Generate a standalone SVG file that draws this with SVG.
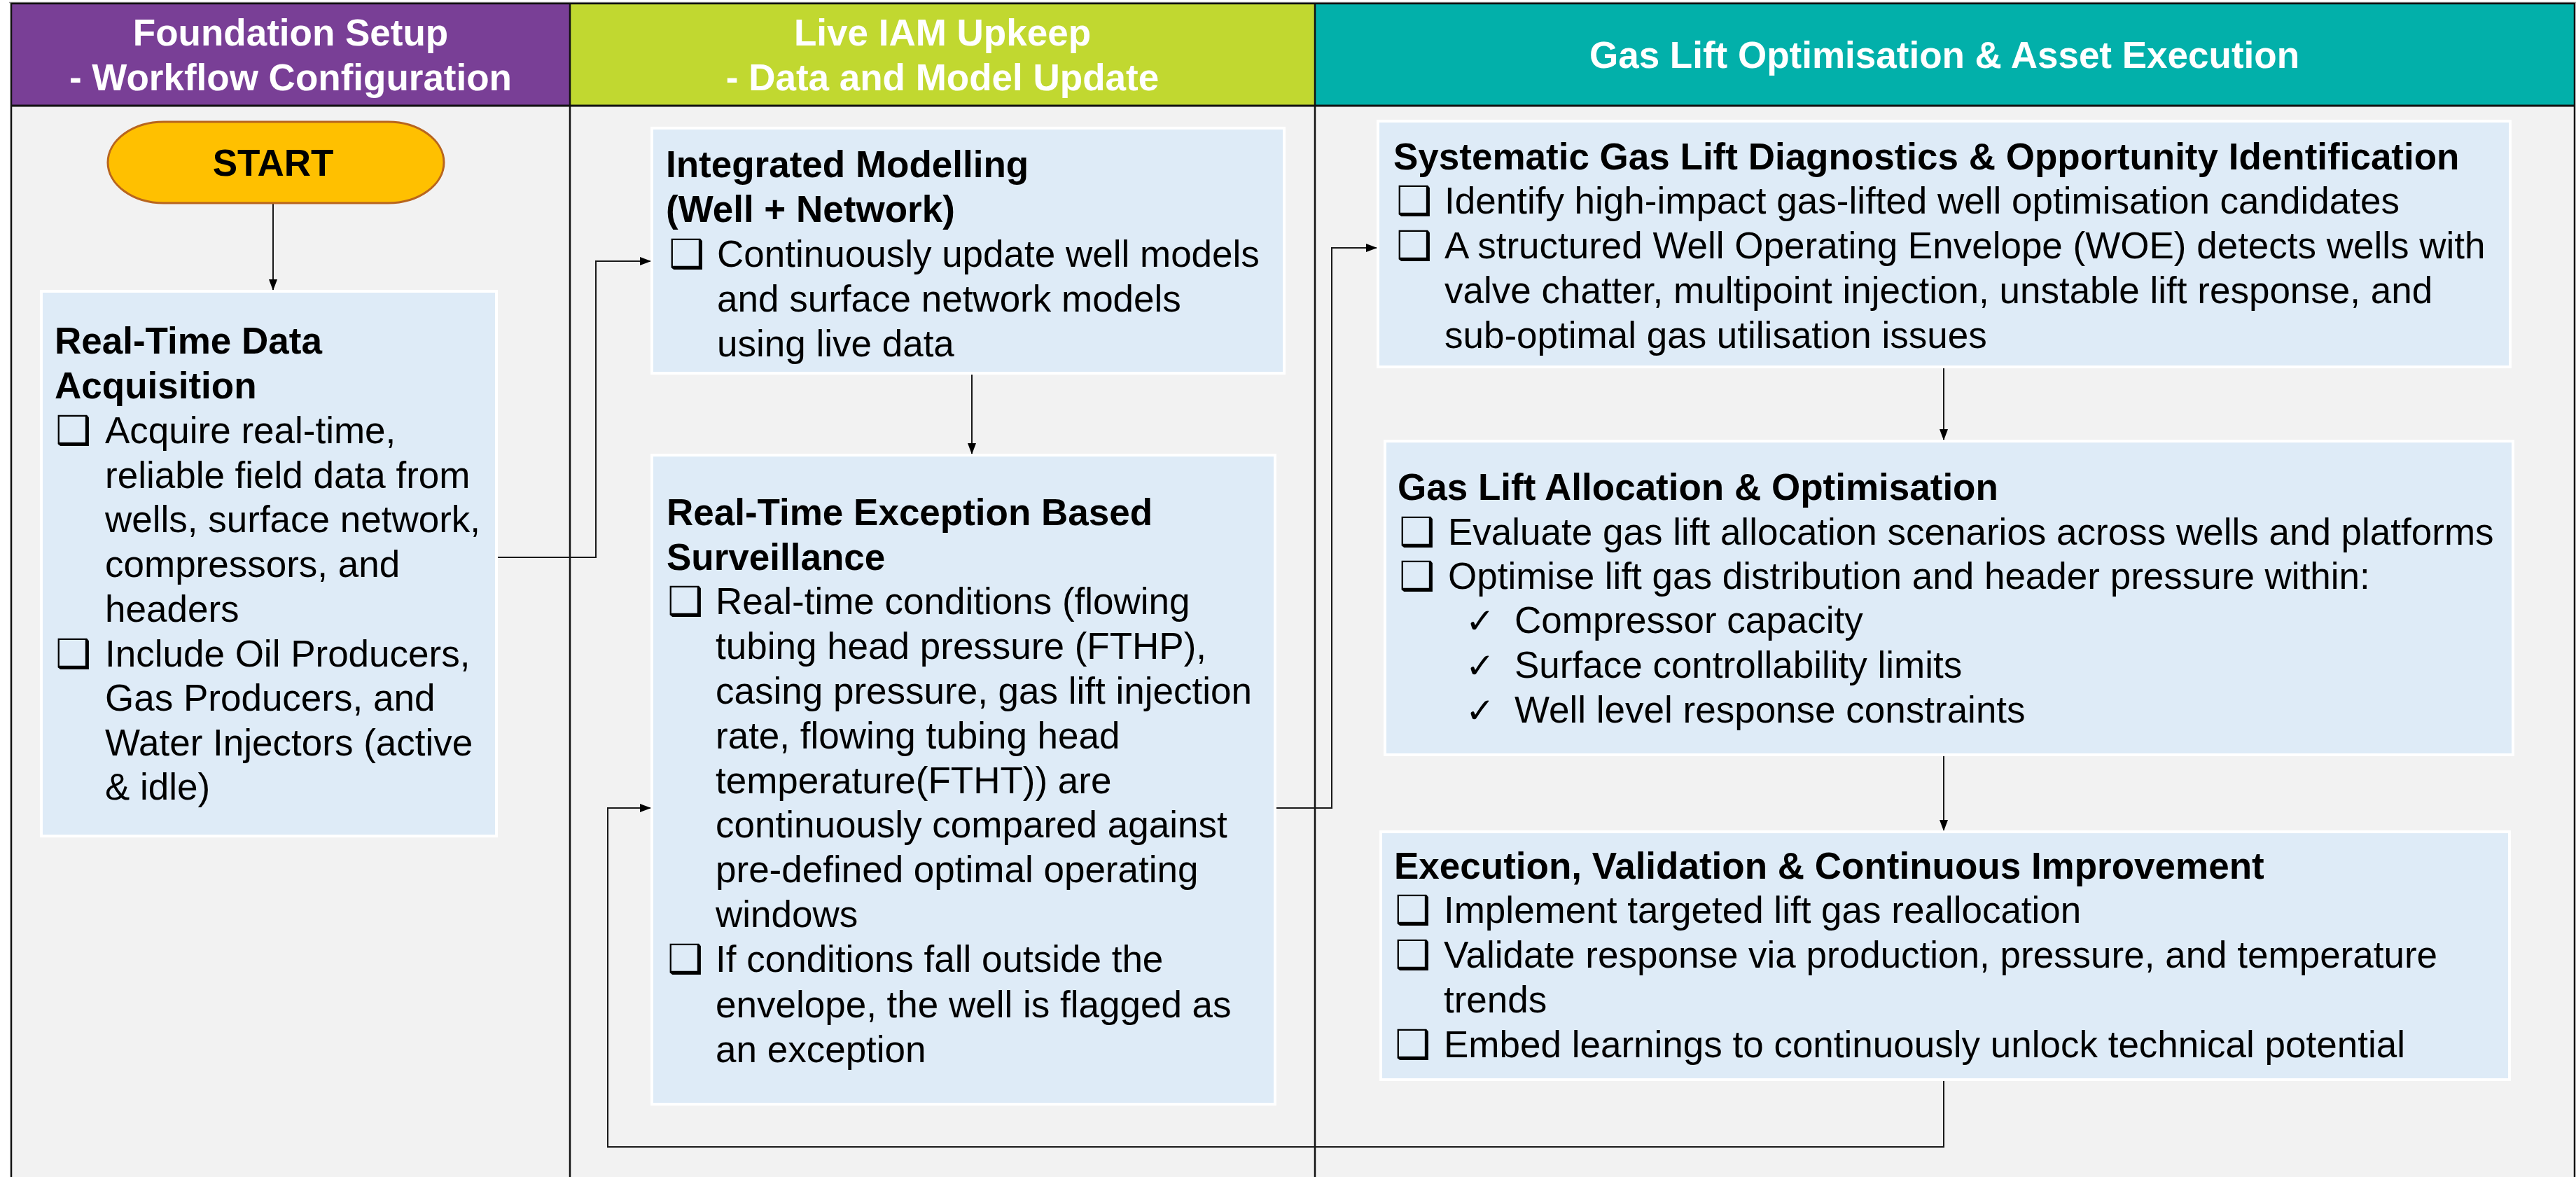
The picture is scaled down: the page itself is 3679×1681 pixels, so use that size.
<svg xmlns="http://www.w3.org/2000/svg" width="3679" height="1681" viewBox="0 0 3679 1681">
<style>
.hd{font-family:"Liberation Sans",Arial,sans-serif;font-size:53px;font-weight:bold;fill:#ffffff;text-anchor:middle}
.t{font-family:"Liberation Sans",Arial,sans-serif;font-size:53px;fill:#000000}
.b{font-weight:bold}
.bx{fill:#DEEBF7;stroke:#ffffff;stroke-width:4}
.bl{font-family:"DejaVu Sans",sans-serif;font-size:57px;fill:#000000}
.ck{font-family:"DejaVu Sans",sans-serif;font-size:50px;fill:#000000}
.cn{fill:none;stroke:#1a1a1a;stroke-width:2}
.fr{fill:none;stroke:#111111;stroke-width:2.5}
</style>
<defs>
<marker id="ah" markerWidth="16" markerHeight="12" refX="15" refY="6" orient="auto" markerUnits="userSpaceOnUse">
<path d="M0,0 L16,6 L0,12 Z" fill="#000000"/>
</marker>
</defs>
<rect x="0" y="0" width="3679" height="1681" fill="#ffffff"/>
<g id="columns">
<rect x="15" y="151" width="3662" height="1530" fill="#F2F2F2"/>
<rect x="15" y="4" width="799" height="147" fill="#793F96"/>
<rect x="814" y="4" width="1064" height="147" fill="#C1D830"/>
<rect x="1878" y="4" width="1799" height="147" fill="#02B0AA"/>
<line x1="13" y1="3.5" x2="3679" y2="3.5" stroke="#9a9a9a" stroke-width="1.5"/>
<line x1="15" y1="5" x2="3677" y2="5" class="fr"/>
<line x1="15" y1="151" x2="3677" y2="151" stroke="#111111" stroke-width="3"/>
<line x1="16" y1="4" x2="16" y2="1681" class="fr"/>
<line x1="814" y1="4" x2="814" y2="1681" class="fr"/>
<line x1="1878" y1="4" x2="1878" y2="1681" class="fr"/>
<line x1="3677" y1="4" x2="3677" y2="1681" class="fr"/>
<text class="hd" x="415" y="65">Foundation Setup</text>
<text class="hd" x="415" y="129">- Workflow Configuration</text>
<text class="hd" x="1346" y="65">Live IAM Upkeep</text>
<text class="hd" x="1346" y="129">- Data and Model Update</text>
<text class="hd" x="2777" y="97">Gas Lift Optimisation &amp; Asset Execution</text>
</g>
<g id="connectors">
<path class="cn" d="M390,290 V414" marker-end="url(#ah)"/>
<path class="cn" d="M711,796 H851 V373 H929" marker-end="url(#ah)"/>
<path class="cn" d="M1388,535 V648" marker-end="url(#ah)"/>
<path class="cn" d="M1823,1154 H1902 V354 H1966" marker-end="url(#ah)"/>
<path class="cn" d="M2776,526 V628" marker-end="url(#ah)"/>
<path class="cn" d="M2776,1080 V1186" marker-end="url(#ah)"/>
<path class="cn" d="M2776,1544 V1638 H868 V1154 H929" marker-end="url(#ah)"/>
</g>
<g id="start">
<path d="M234,174 H554 A80,58 0 0 1 554,290 H234 A80,58 0 0 1 234,174 Z" fill="#FFC000" stroke="#B8651E" stroke-width="3"/>
<text class="t b" x="390" y="251" text-anchor="middle">START</text>
</g>
<g id="data-acquisition">
<rect class="bx" x="59" y="416" width="650" height="778"/>
<text class="t b" x="78" y="505">Real-Time Data</text>
<text class="t b" x="78" y="569">Acquisition</text>
<text class="bl" x="79" y="634">❑</text>
<text class="t" x="150" y="633">Acquire real-time,</text>
<text class="t" x="150" y="697">reliable field data from</text>
<text class="t" x="150" y="760">wells, surface network,</text>
<text class="t" x="150" y="824">compressors, and</text>
<text class="t" x="150" y="888">headers</text>
<text class="bl" x="79" y="953">❑</text>
<text class="t" x="150" y="952">Include Oil Producers,</text>
<text class="t" x="150" y="1015">Gas Producers, and</text>
<text class="t" x="150" y="1079">Water Injectors (active</text>
<text class="t" x="150" y="1142">&amp; idle)</text>
</g>
<g id="integrated-modelling">
<rect class="bx" x="931" y="183" width="903" height="350"/>
<text class="t b" x="951" y="253">Integrated Modelling</text>
<text class="t b" x="951" y="317">(Well + Network)</text>
<text class="bl" x="955" y="382">❑</text>
<text class="t" x="1024" y="381">Continuously update well models</text>
<text class="t" x="1024" y="445">and surface network models</text>
<text class="t" x="1024" y="509">using live data</text>
</g>
<g id="exception-surveillance">
<rect class="bx" x="931" y="650" width="890" height="927"/>
<text class="t b" x="952" y="750">Real-Time Exception Based</text>
<text class="t b" x="952" y="814">Surveillance</text>
<text class="bl" x="953" y="878">❑</text>
<text class="t" x="1022" y="877">Real-time conditions (flowing</text>
<text class="t" x="1022" y="941">tubing head pressure (FTHP),</text>
<text class="t" x="1022" y="1005">casing pressure, gas lift injection</text>
<text class="t" x="1022" y="1069">rate, flowing tubing head</text>
<text class="t" x="1022" y="1133">temperature(FTHT)) are</text>
<text class="t" x="1022" y="1196">continuously compared against</text>
<text class="t" x="1022" y="1260">pre-defined optimal operating</text>
<text class="t" x="1022" y="1324">windows</text>
<text class="bl" x="953" y="1389">❑</text>
<text class="t" x="1022" y="1388">If conditions fall outside the</text>
<text class="t" x="1022" y="1453">envelope, the well is flagged as</text>
<text class="t" x="1022" y="1517">an exception</text>
</g>
<g id="diagnostics">
<rect class="bx" x="1968" y="173" width="1617" height="351"/>
<text class="t b" x="1990" y="242">Systematic Gas Lift Diagnostics &amp; Opportunity Identification</text>
<text class="bl" x="1994" y="306">❑</text>
<text class="t" x="2063" y="305">Identify high-impact gas-lifted well optimisation candidates</text>
<text class="bl" x="1994" y="370">❑</text>
<text class="t" x="2063" y="369">A structured Well Operating Envelope (WOE) detects wells with</text>
<text class="t" x="2063" y="433">valve chatter, multipoint injection, unstable lift response, and</text>
<text class="t" x="2063" y="497">sub-optimal gas utilisation issues</text>
</g>
<g id="allocation">
<rect class="bx" x="1978" y="630" width="1611" height="448"/>
<text class="t b" x="1996" y="714">Gas Lift Allocation &amp; Optimisation</text>
<text class="bl" x="1998" y="779">❑</text>
<text class="t" x="2068" y="778">Evaluate gas lift allocation scenarios across wells and platforms</text>
<text class="bl" x="1998" y="842">❑</text>
<text class="t" x="2068" y="841">Optimise lift gas distribution and header pressure within:</text>
<text class="ck" x="2093" y="904">✓</text>
<text class="t" x="2163" y="904">Compressor capacity</text>
<text class="ck" x="2093" y="968">✓</text>
<text class="t" x="2163" y="968">Surface controllability limits</text>
<text class="ck" x="2093" y="1032">✓</text>
<text class="t" x="2163" y="1032">Well level response constraints</text>
</g>
<g id="execution">
<rect class="bx" x="1972" y="1188" width="1612" height="354"/>
<text class="t b" x="1991" y="1255">Execution, Validation &amp; Continuous Improvement</text>
<text class="bl" x="1992" y="1319">❑</text>
<text class="t" x="2062" y="1318">Implement targeted lift gas reallocation</text>
<text class="bl" x="1992" y="1383">❑</text>
<text class="t" x="2062" y="1382">Validate response via production, pressure, and temperature</text>
<text class="t" x="2062" y="1446">trends</text>
<text class="bl" x="1992" y="1511">❑</text>
<text class="t" x="2062" y="1510">Embed learnings to continuously unlock technical potential</text>
</g>
</svg>
